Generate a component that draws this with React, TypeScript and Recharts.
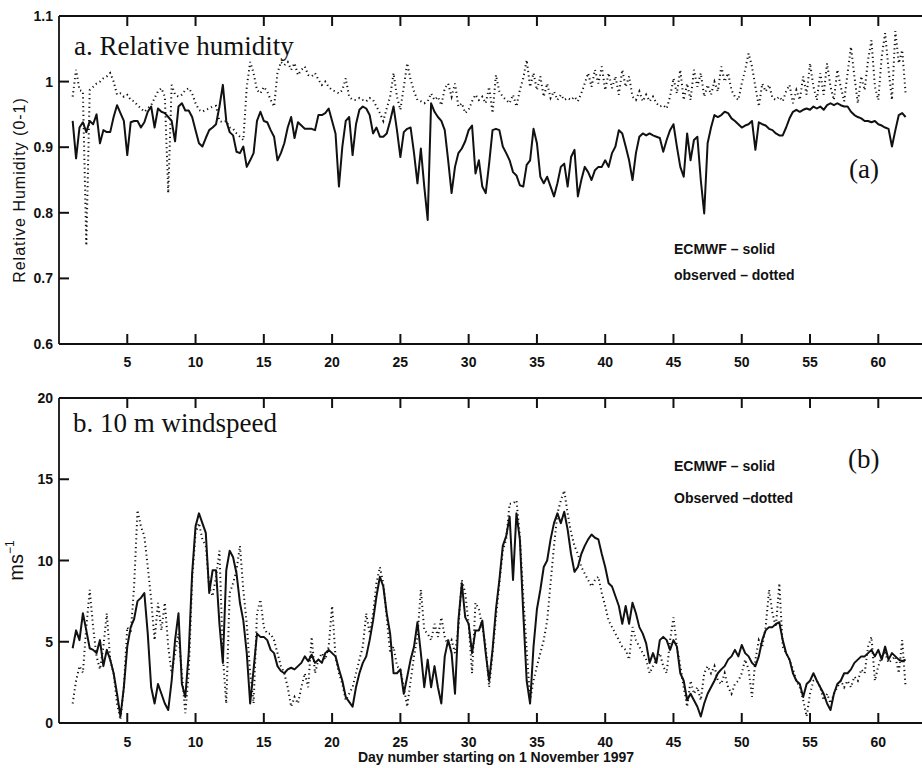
import React from "react";
import { LineChart, Line, XAxis, YAxis, Label } from "recharts";

// Samples every 0.25 day, starting on day 1
const START_DAY = 1;
const STEP = 0.25;

const DAY_TICKS = [5, 10, 15, 20, 25, 30, 35, 40, 45, 50, 55, 60];
const DAY_DOMAIN: [number, number] = [0, 63.2];

const RH_TICKS = [0.6, 0.7, 0.8, 0.9, 1.0, 1.1];
const WS_TICKS = [0, 5, 10, 15, 20];

// a. relative humidity, ECMWF
const rhModel = [
  0.94, 0.883, 0.93, 0.938,
  0.923, 0.94, 0.935, 0.95,
  0.906, 0.926, 0.923, 0.923,
  0.946, 0.964, 0.952, 0.94,
  0.888, 0.938, 0.94, 0.94,
  0.93, 0.938, 0.954, 0.962,
  0.93, 0.959, 0.954, 0.952,
  0.946, 0.94, 0.909, 0.962,
  0.967, 0.956, 0.956, 0.946,
  0.926, 0.906, 0.901, 0.914,
  0.926, 0.93, 0.935, 0.962,
  0.995, 0.94, 0.923, 0.918,
  0.893, 0.891, 0.901, 0.87,
  0.88, 0.891, 0.94, 0.954,
  0.94, 0.938, 0.926, 0.916,
  0.88, 0.891, 0.906, 0.93,
  0.946, 0.914, 0.938, 0.933,
  0.928, 0.928, 0.928, 0.926,
  0.949, 0.949, 0.952, 0.959,
  0.94, 0.921, 0.84, 0.901,
  0.94, 0.946, 0.888, 0.935,
  0.957, 0.962, 0.959, 0.949,
  0.921, 0.93, 0.916, 0.916,
  0.921, 0.94, 0.962, 0.926,
  0.885, 0.923, 0.928, 0.93,
  0.891, 0.845, 0.898, 0.84,
  0.789, 0.967, 0.954, 0.946,
  0.94, 0.926, 0.88, 0.83,
  0.87, 0.891, 0.898, 0.909,
  0.926, 0.933, 0.86, 0.88,
  0.84, 0.83, 0.875, 0.926,
  0.928, 0.926, 0.901, 0.891,
  0.88, 0.862, 0.857, 0.842,
  0.84, 0.873, 0.88, 0.928,
  0.906, 0.855, 0.845, 0.855,
  0.84, 0.825, 0.845, 0.87,
  0.875, 0.84, 0.885, 0.896,
  0.825, 0.85, 0.87, 0.862,
  0.85, 0.865, 0.87, 0.87,
  0.88, 0.87, 0.891, 0.901,
  0.926, 0.921, 0.901, 0.88,
  0.85, 0.891, 0.916, 0.921,
  0.918, 0.921, 0.918, 0.916,
  0.914, 0.893, 0.911, 0.926,
  0.935, 0.901, 0.87, 0.855,
  0.921, 0.88, 0.911, 0.916,
  0.85, 0.799, 0.906, 0.93,
  0.949, 0.946, 0.949, 0.954,
  0.952, 0.944, 0.94, 0.935,
  0.93, 0.933, 0.935, 0.94,
  0.896, 0.938, 0.935, 0.933,
  0.928, 0.926, 0.921, 0.918,
  0.918, 0.93, 0.944, 0.954,
  0.957, 0.954, 0.957, 0.959,
  0.957, 0.962, 0.959, 0.962,
  0.957, 0.964, 0.967, 0.964,
  0.967, 0.964, 0.962, 0.962,
  0.954, 0.949, 0.946, 0.944,
  0.94, 0.94, 0.938, 0.94,
  0.935, 0.933, 0.93, 0.928,
  0.901, 0.926, 0.949, 0.952,
  0.946,
];

// a. relative humidity, observed
const rhObs = [
  0.977, 1.018, 0.987, 0.985,
  0.75, 0.987, 0.992, 0.997,
  1.0, 1.005, 1.008, 1.013,
  1.0, 0.98, 0.982, 0.977,
  0.98, 0.972, 0.97, 0.964,
  0.959, 0.954, 0.959, 0.964,
  0.975, 0.985, 0.99, 0.977,
  0.83, 0.995, 0.98, 0.977,
  0.98, 0.987, 0.99, 0.982,
  0.967, 0.957, 0.954, 0.957,
  0.959, 0.962, 0.963, 0.94,
  0.938, 0.94, 0.93, 0.928,
  0.921, 0.916, 0.911, 0.992,
  1.03, 1.013, 0.987, 0.982,
  0.992, 0.985, 0.972, 0.962,
  1.013, 1.03, 1.025, 1.03,
  1.018, 1.028, 1.01, 1.018,
  1.023, 1.01, 1.008, 1.013,
  1.003, 0.995, 1.0, 0.992,
  0.987, 0.985, 0.982, 0.987,
  1.005, 0.977, 0.972, 0.972,
  0.975, 0.972, 0.97, 0.975,
  0.972, 0.962, 0.952, 0.94,
  0.959, 0.977, 1.013, 0.977,
  0.957, 0.992, 1.028, 1.003,
  0.985, 0.972, 0.97, 0.967,
  0.97, 0.982, 0.972, 0.977,
  0.964, 0.99, 0.997, 0.977,
  0.997, 0.962, 0.967, 0.952,
  0.957, 0.97, 0.98, 0.972,
  0.977, 0.967, 0.992, 0.952,
  1.01, 0.985, 0.977, 0.972,
  0.967, 0.98, 0.962, 0.987,
  1.005, 1.033, 0.992, 1.013,
  0.987, 1.008, 0.977, 0.997,
  0.975, 0.985, 0.972, 0.98,
  0.972, 0.975, 0.972, 0.977,
  0.97, 0.982, 0.997, 1.013,
  0.992, 1.018, 0.997, 1.023,
  0.987, 1.013, 0.99, 1.008,
  0.98, 1.018, 0.992, 1.008,
  0.977, 0.972, 0.985, 0.97,
  0.98, 0.97, 0.977, 0.967,
  0.962, 0.964, 0.959, 0.977,
  1.005, 0.982, 1.018, 0.972,
  0.997, 0.972, 1.018, 0.992,
  1.013, 0.977, 0.995, 0.98,
  1.0, 0.985, 1.023, 1.0,
  1.013, 0.987, 0.977, 0.972,
  0.997, 1.018, 1.043, 1.023,
  0.992, 0.962, 0.997, 0.985,
  0.995, 0.975, 0.972, 0.977,
  0.97, 0.985, 0.995, 0.967,
  0.987, 0.972, 1.008, 0.98,
  1.028, 0.992, 0.972, 1.013,
  0.98, 1.028, 0.992, 0.972,
  1.018, 0.992, 0.97, 1.013,
  1.053, 1.008, 0.967, 1.008,
  0.987, 1.033, 1.063, 0.992,
  0.972, 1.038, 1.074, 1.018,
  0.972, 1.077, 1.028, 1.048,
  0.982,
];

// b. 10 m windspeed (m/s), ECMWF
const wsModel = [
  4.6, 5.7, 5.1, 6.75,
  5.7, 4.6, 4.5, 4.3,
  5.1, 3.5, 4.5, 3.9,
  3.06, 1.8, 0.4, 2.2,
  4.7, 5.9, 6.4, 7.5,
  7.7, 8.0, 5.5, 2.2,
  1.2, 2.4, 1.8, 1.2,
  0.8, 2.6, 5.1, 6.75,
  2.4, 1.6, 4.3, 9.2,
  12.1, 12.9, 12.3, 11.7,
  8.0, 9.4, 9.4, 6.1,
  3.7, 9.4, 10.6, 10.2,
  9.2, 7.4, 6.3, 4.3,
  1.2, 3.3, 5.5, 5.3,
  5.3, 5.1, 4.5, 4.3,
  3.5, 3.2, 3.06, 3.3,
  3.4, 3.3, 3.5, 3.7,
  4.1, 3.8, 4.2, 3.7,
  3.9, 3.7, 4.3, 4.5,
  4.3, 4.1, 3.3, 2.6,
  1.6, 1.3, 1.0, 2.2,
  3.06, 3.7, 4.1, 5.1,
  6.3, 7.8, 9.0, 8.4,
  6.75, 5.5, 3.06, 3.06,
  3.3, 1.8, 2.85, 3.9,
  4.7, 6.2, 4.3, 2.2,
  3.9, 2.2, 3.5, 2.2,
  1.2, 4.1, 5.1, 4.3,
  1.8, 6.3, 8.6, 6.5,
  6.1, 4.3, 5.7, 5.7,
  6.3, 4.3, 2.6, 4.5,
  7.0, 8.8, 10.9, 11.5,
  12.7, 8.8, 12.9, 11.3,
  6.75, 2.6, 1.2, 4.7,
  7.0, 8.2, 9.6, 10.0,
  11.3, 12.3, 12.9, 12.3,
  13.0, 11.9, 10.4, 9.3,
  9.6, 10.4, 10.9, 11.3,
  11.6, 11.4, 11.3, 10.4,
  9.6, 8.6, 8.4, 7.8,
  7.2, 6.1, 7.2, 6.1,
  7.4, 6.75, 5.9, 5.5,
  4.9, 3.7, 4.3, 3.7,
  5.1, 5.3, 5.1, 4.5,
  5.1, 4.7, 3.06, 2.6,
  1.4, 1.8, 1.4, 1.0,
  0.4, 1.2, 1.8, 2.2,
  2.6, 3.06, 3.3, 3.5,
  3.9, 4.1, 4.5, 4.1,
  4.8, 4.3, 4.1, 3.7,
  3.5, 4.1, 5.1, 5.7,
  5.9, 5.9, 6.1, 6.2,
  5.1, 4.3, 3.9, 3.06,
  2.6, 2.4, 1.6, 2.4,
  2.6, 3.06, 2.6, 2.2,
  1.8, 1.2, 0.8, 1.8,
  2.4, 2.6, 3.06, 3.06,
  3.3, 3.7, 3.9, 4.1,
  4.1, 4.3, 4.5, 4.1,
  4.5, 3.9, 4.7, 3.9,
  4.3, 4.1, 3.9, 3.8,
  3.9,
];

// b. 10 m windspeed (m/s), observed
const wsObs = [
  1.2, 2.6, 3.5, 3.1,
  5.9, 8.2, 5.9, 4.1,
  3.3, 4.7, 6.75, 3.9,
  3.06, 1.2, 0.2, 2.2,
  5.9, 5.5, 8.4, 13.1,
  12.1, 11.5, 9.6, 7.6,
  5.1, 7.4, 5.7, 7.4,
  4.7, 3.06, 4.3, 5.5,
  3.06, 0.6, 3.06, 8.8,
  11.7, 12.3, 11.3, 10.9,
  8.4, 7.8, 9.0, 10.6,
  4.1, 1.2, 8.0, 8.6,
  9.4, 10.9, 8.2, 6.1,
  3.06, 1.2, 6.75, 7.6,
  5.9, 5.5, 5.5, 5.1,
  4.3, 3.5, 3.06, 2.2,
  1.0, 1.6, 1.2, 2.2,
  3.06, 2.2, 5.3, 3.06,
  3.9, 4.3, 3.9, 4.7,
  7.2, 4.1, 3.06, 2.4,
  1.4, 1.8, 2.2, 3.06,
  3.9, 4.7, 6.75, 5.5,
  6.75, 8.6, 9.6, 8.6,
  6.5, 4.3, 4.7, 3.5,
  3.3, 2.2, 1.0, 2.6,
  4.1, 5.3, 8.2, 5.7,
  5.5, 5.1, 6.1, 5.3,
  6.5, 5.3, 4.7, 5.1,
  4.3, 5.9, 8.8, 8.0,
  6.1, 3.06, 7.4, 7.0,
  5.9, 4.7, 2.2, 4.3,
  6.5, 8.6, 10.6, 11.3,
  13.5, 13.5, 13.7, 11.5,
  7.8, 4.5, 1.4, 2.6,
  3.5, 4.3, 5.1, 6.3,
  8.6, 10.9, 12.9, 13.7,
  14.3, 12.9, 11.7, 10.9,
  10.4, 9.6, 9.2, 8.8,
  8.4, 8.8, 9.0, 8.0,
  7.2, 6.3, 5.9, 5.5,
  5.1, 4.7, 4.5, 3.9,
  5.9, 5.1, 4.7, 4.3,
  3.9, 3.06, 3.5, 3.9,
  4.3, 3.5, 3.06, 5.1,
  6.5, 4.7, 3.5, 2.2,
  1.0, 2.6, 1.8, 2.2,
  1.4, 3.06, 3.5, 3.06,
  3.5, 2.6, 2.4, 3.06,
  2.2, 1.8, 2.4, 2.6,
  3.06, 3.9, 3.3, 1.6,
  3.9, 5.1, 4.7, 5.9,
  8.2, 6.75, 5.9, 8.6,
  4.7, 4.3, 3.9, 3.3,
  2.6, 2.2, 1.4, 0.4,
  1.8, 2.6, 2.6, 2.2,
  1.4, 1.8, 1.2, 1.8,
  2.2, 2.6, 2.2, 2.6,
  2.2, 2.85, 2.6, 3.3,
  3.06, 4.7, 5.3, 2.6,
  3.5, 4.1, 4.3, 3.7,
  3.9, 4.1, 3.06, 5.1,
  2.2,
];

const rhData = rhModel.map((v, i) => ({ day: START_DAY + i * STEP, model: v, obs: rhObs[i] }));
const wsData = wsModel.map((v, i) => ({ day: START_DAY + i * STEP, model: v, obs: wsObs[i] }));

const INK = "#111";
const SANS = "'Liberation Sans', Arial, Helvetica, sans-serif";
const SERIF = "'Liberation Serif', 'Times New Roman', serif";
const TICK_LEN = 10;
const TICK_W = 2;
const AXIS_LINE = { stroke: INK, strokeWidth: 1.8 };

const fmtRh = (v: number) => String(Math.round(v * 10) / 10);

// inward tick marks, label outside the box
function BottomTick(props: any) {
  const { x, y, payload, gap } = props;
  return (
    <g>
      <line x1={x} y1={y} x2={x} y2={y - TICK_LEN} stroke={INK} strokeWidth={TICK_W} />
      <text
        x={x}
        y={y + gap}
        textAnchor="middle"
        fontFamily={SANS}
        fontSize={14}
        fontWeight={700}
        fill={INK}
      >
        {payload.value}
      </text>
    </g>
  );
}

function TopTick(props: any) {
  const { x, y } = props;
  return <line x1={x} y1={y} x2={x} y2={y + TICK_LEN} stroke={INK} strokeWidth={TICK_W} />;
}

function LeftTick(props: any) {
  const { x, y, payload, format } = props;
  const label = format ? format(payload.value) : String(payload.value);
  return (
    <g>
      <line x1={x} y1={y} x2={x + TICK_LEN} y2={y} stroke={INK} strokeWidth={TICK_W} />
      <text
        x={x - 6}
        y={y + 5}
        textAnchor="end"
        fontFamily={SANS}
        fontSize={14}
        fontWeight={700}
        fill={INK}
      >
        {label}
      </text>
    </g>
  );
}

function RhAxisLabel(props: any) {
  const vb = props.viewBox;
  const cx = vb.x + 19;
  const cy = 190;
  return (
    <text
      x={cx}
      y={cy}
      transform={`rotate(-90 ${cx} ${cy})`}
      textAnchor="middle"
      dominantBaseline="central"
      fontFamily={SANS}
      fontSize={16}
      letterSpacing={1}
      fill={INK}
    >
      Relative Humidity (0-1)
    </text>
  );
}

function WsAxisLabel(props: any) {
  const vb = props.viewBox;
  const cx = vb.x + 23;
  const cy = vb.y + vb.height / 2;
  return (
    <text
      x={cx}
      y={cy}
      transform={`rotate(-90 ${cx} ${cy})`}
      textAnchor="middle"
      fontFamily={SANS}
      fontSize={20}
      fill={INK}
    >
      ms
      <tspan fontSize={12} dy={-9}>
        −1
      </tspan>
    </text>
  );
}

function Panel({
  data,
  height,
  top,
  marginTop,
  xHeight,
  labelGap,
  yDomain,
  yTicks,
  yFormat,
  yLabel,
}: {
  data: { day: number; model: number; obs: number }[];
  height: number;
  top: number;
  marginTop: number;
  xHeight: number;
  labelGap: number;
  yDomain: [number, number];
  yTicks: number[];
  yFormat?: (v: number) => string;
  yLabel: React.ReactNode;
}) {
  return (
    <div style={{ position: "absolute", left: 0, top }}>
      <LineChart
        width={922}
        height={height}
        data={data}
        margin={{ top: marginTop - 1, right: 0, bottom: 0, left: 0 }}
      >
        <XAxis
          xAxisId="bottom"
          dataKey="day"
          type="number"
          domain={DAY_DOMAIN}
          ticks={DAY_TICKS}
          interval={0}
          orientation="bottom"
          height={xHeight}
          tickSize={0}
          tickMargin={0}
          axisLine={AXIS_LINE}
          tickLine={false}
          tick={<BottomTick gap={labelGap} />}
          allowDataOverflow
        />
        <XAxis
          xAxisId="top"
          dataKey="day"
          type="number"
          domain={DAY_DOMAIN}
          ticks={DAY_TICKS}
          interval={0}
          orientation="top"
          height={1}
          tickSize={0}
          tickMargin={0}
          axisLine={AXIS_LINE}
          tickLine={false}
          tick={<TopTick />}
          allowDataOverflow
        />
        <YAxis
          type="number"
          domain={yDomain}
          ticks={yTicks}
          interval={0}
          width={59}
          tickSize={0}
          tickMargin={0}
          axisLine={AXIS_LINE}
          tickLine={false}
          tick={<LeftTick format={yFormat} />}
          allowDataOverflow
        >
          <Label content={yLabel as any} />
        </YAxis>
        <Line
          xAxisId="bottom"
          dataKey="obs"
          type="linear"
          stroke={INK}
          strokeWidth={2}
          strokeDasharray="1.2 3.2"
          dot={false}
          isAnimationActive={false}
        />
        <Line
          xAxisId="bottom"
          dataKey="model"
          type="linear"
          stroke={INK}
          strokeWidth={2}
          strokeLinejoin="round"
          dot={false}
          isAnimationActive={false}
        />
      </LineChart>
    </div>
  );
}

export default function App() {
  return (
    <div
      style={{
        position: "absolute",
        left: 0,
        top: 0,
        width: 922,
        height: 768,
        background: "#fff",
        overflow: "hidden",
      }}
    >
      <Panel
        data={rhData}
        height={372}
        top={0}
        marginTop={16}
        xHeight={28}
        labelGap={23}
        yDomain={[0.6, 1.1]}
        yTicks={RH_TICKS}
        yFormat={fmtRh}
        yLabel={<RhAxisLabel />}
      />
      <Panel
        data={wsData}
        height={396}
        top={372}
        marginTop={26}
        xHeight={45}
        labelGap={24}
        yDomain={[0, 20]}
        yTicks={WS_TICKS}
        yLabel={<WsAxisLabel />}
      />
      <svg
        width={922}
        height={768}
        style={{ position: "absolute", left: 0, top: 0, pointerEvents: "none" }}
      >
        <text x={74} y={55} fontFamily={SERIF} fontSize={27} fill={INK}>
          a. Relative humidity
        </text>
        <text x={849} y={178} fontFamily={SERIF} fontSize={27} fill={INK}>
          (a)
        </text>
        <text x={674} y={254} fontFamily={SANS} fontSize={14} fontWeight={700} fill={INK}>
          ECMWF – solid
        </text>
        <text x={674} y={280} fontFamily={SANS} fontSize={14} fontWeight={700} fill={INK}>
          observed – dotted
        </text>

        <text x={73} y={432} fontFamily={SERIF} fontSize={27} fill={INK}>
          b. 10 m windspeed
        </text>
        <text x={848} y={468} fontFamily={SERIF} fontSize={27} fill={INK}>
          (b)
        </text>
        <text x={674} y={471} fontFamily={SANS} fontSize={14} fontWeight={700} fill={INK}>
          ECMWF – solid
        </text>
        <text x={674} y={503} fontFamily={SANS} fontSize={14} fontWeight={700} fill={INK}>
          Observed –dotted
        </text>

        <text
          x={496}
          y={762}
          textAnchor="middle"
          fontFamily={SANS}
          fontSize={14}
          fontWeight={700}
          fill={INK}
        >
          Day number starting on 1 November 1997
        </text>
      </svg>
    </div>
  );
}
